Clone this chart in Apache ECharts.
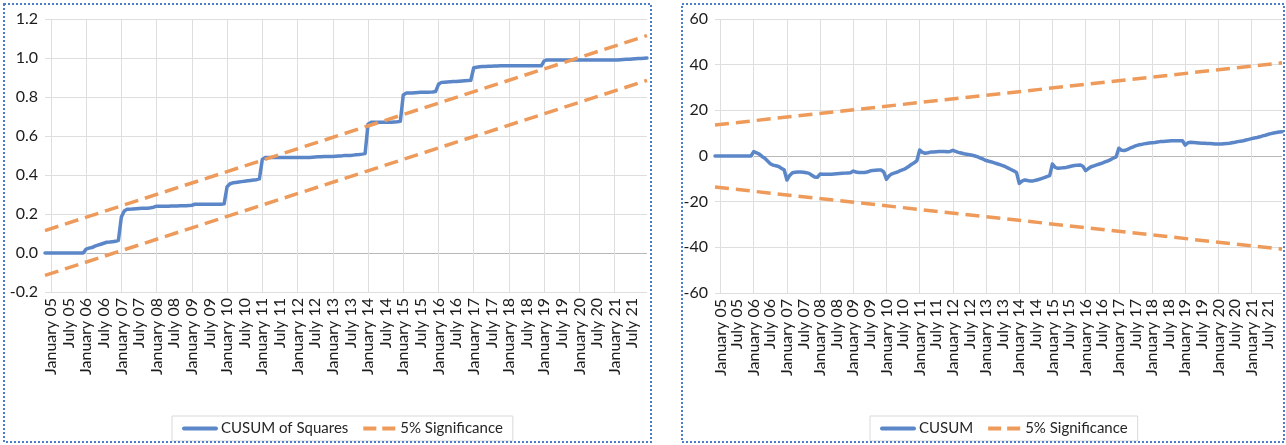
<!DOCTYPE html>
<html>
<head>
<meta charset="utf-8">
<script src="https://cdn.jsdelivr.net/npm/echarts@6/dist/echarts.min.js"></script>
<style>
html,body{margin:0;padding:0;background:#ffffff;}
#c{width:1286px;height:445px;}
</style>
</head>
<body>
<div id="c"></div>
<script>
// ---- category labels (monthly, Nov 2004 .. Dec 2021) ----
const monthNames = ['January','February','March','April','May','June','July','August','September','October','November','December'];
const years = [2005,2006,2007,2008,2009,2010,2011,2012,2013,2014,2015,2016,2017,2018,2019,2020,2021];
const categories = ['November 04','December 04'];
years.forEach(function(y){ monthNames.forEach(function(m){ categories.push(m + ' ' + String(y).slice(2)); }); });

// ---- CUSUM of Squares (monthly values) ----
const cusumSq = [
  0, 0,
  0, 0, 0, 0, 0, 0, 0, 0, 0, 0, 0, 0,
  0.02, 0.025, 0.028, 0.035, 0.04, 0.045, 0.05, 0.055, 0.056, 0.058, 0.06, 0.065,
  0.185, 0.215, 0.225, 0.225, 0.226, 0.227, 0.228, 0.229, 0.23, 0.23, 0.232, 0.235,
  0.24, 0.24, 0.24, 0.24, 0.24, 0.241, 0.241, 0.241, 0.242, 0.242, 0.242, 0.243,
  0.245, 0.25, 0.25, 0.25, 0.25, 0.25, 0.25, 0.25, 0.25, 0.25, 0.25, 0.252,
  0.34, 0.355, 0.36, 0.362, 0.364, 0.366, 0.368, 0.37, 0.372, 0.374, 0.376, 0.38,
  0.48, 0.49, 0.49, 0.49, 0.49, 0.49, 0.49, 0.49, 0.49, 0.49, 0.49, 0.49,
  0.49, 0.49, 0.49, 0.49, 0.49, 0.491, 0.492, 0.493, 0.494, 0.495, 0.495, 0.495,
  0.495, 0.496, 0.497, 0.498, 0.5, 0.5, 0.5, 0.502, 0.504, 0.505, 0.507, 0.51,
  0.66, 0.67, 0.67, 0.67, 0.67, 0.67, 0.67, 0.67, 0.671, 0.672, 0.673, 0.675,
  0.81, 0.82, 0.82, 0.82, 0.822, 0.823, 0.824, 0.825, 0.825, 0.825, 0.826, 0.828,
  0.865, 0.875, 0.876, 0.877, 0.878, 0.879, 0.88, 0.881, 0.882, 0.883, 0.884, 0.886,
  0.95, 0.953, 0.955, 0.956, 0.957, 0.958, 0.958, 0.959, 0.959, 0.96, 0.96, 0.96,
  0.96, 0.96, 0.96, 0.96, 0.96, 0.96, 0.96, 0.96, 0.96, 0.96, 0.96, 0.96,
  0.985, 0.99, 0.99, 0.99, 0.99, 0.99, 0.99, 0.99, 0.99, 0.99, 0.99, 0.99,
  0.99, 0.99, 0.99, 0.99, 0.99, 0.99, 0.99, 0.99, 0.99, 0.99, 0.99, 0.99,
  0.99, 0.99, 0.991, 0.992, 0.993, 0.994, 0.995, 0.996, 0.997, 0.998, 0.999, 1.0
];

// ---- CUSUM (monthly values) ----
const cusum = [
  0, 0,
  0, 0, 0, 0, 0, 0, 0, 0, 0, 0, 0, 0,
  1.9, 1.4, 0.8, -0.2, -1.0, -2.2, -3.4, -4.0, -4.3, -4.6, -5.4, -6.0,
  -10.5, -8.5, -7.3, -7.1, -7.0, -7.0, -7.1, -7.3, -7.6, -8.4, -9.2, -9.3,
  -7.9, -8.0, -8.0, -8.0, -8.0, -7.9, -7.8, -7.7, -7.6, -7.5, -7.4, -7.3,
  -6.6, -7.0, -7.2, -7.2, -7.2, -7.0, -6.6, -6.3, -6.2, -6.1, -6.1, -7.0,
  -10.2, -8.6, -7.8, -7.4, -7.0, -6.4, -6.0, -5.4, -4.6, -3.7, -3.0, -2.0,
  2.6, 1.6, 1.2, 1.4, 1.7, 1.8, 1.9, 2.0, 2.0, 2.0, 1.9, 2.0,
  2.5, 2.0, 1.6, 1.3, 1.0, 0.8, 0.6, 0.3, 0.0, -0.4, -0.9, -1.4,
  -2.0, -2.3, -2.6, -3.0, -3.4, -3.8, -4.2, -4.7, -5.3, -5.9, -6.5, -7.2,
  -12.0, -11.0, -10.5, -10.7, -11.0, -10.9, -10.6, -10.3, -9.9, -9.5, -9.0, -8.6,
  -3.5, -5.0, -5.4, -5.3, -5.1, -5.0, -4.7, -4.4, -4.2, -4.0, -3.9, -4.5,
  -6.4, -5.5, -4.7, -4.3, -3.9, -3.5, -3.1, -2.6, -2.2, -1.6, -0.9, -0.4,
  3.4, 2.5, 2.4, 2.8, 3.4, 3.9, 4.4, 4.8, 5.0, 5.3, 5.5, 5.7,
  5.8, 5.9, 6.1, 6.3, 6.4, 6.5, 6.6, 6.7, 6.7, 6.7, 6.7, 6.7,
  4.8, 5.8, 6.0, 5.9, 5.8, 5.7, 5.6, 5.6, 5.5, 5.5, 5.4, 5.3,
  5.3, 5.3, 5.4, 5.5, 5.6, 5.8, 6.0, 6.3, 6.5, 6.7, 7.0, 7.3,
  7.6, 7.9, 8.1, 8.4, 8.8, 9.1, 9.5, 9.8, 10.1, 10.3, 10.5, 10.6
];

// ---- 5% significance bands: values at the first and last month ----
const bandX = ['November 04', 'December 21'];
const sqUpper = [0.115, 1.115];
const sqLower = [-0.115, 0.885];
const cuUpper = [13.6, 40.8];
const cuLower = [-13.6, -40.8];

// ---- tick settings ----
const sqTicks = { min: -0.2, max: 1.2, interval: 0.2 };
const cuTicks = { min: -60, max: 60, interval: 20 };

const FONT = 'Lato';
const BLUE = '#5B86C8';
const ORANGE = '#EE9A5A';
const GRID = '#DEDEDE';
const ZERO = '#B8B8B8';
const TXT = '#1C1C1C';

function pairs(xs, ys){ return xs.map(function(x, i){ return [x, ys[i]]; }); }

function xAxisCfg(gridIndex){
  return {
    type: 'category', gridIndex: gridIndex, data: categories, boundaryGap: false,
    axisLine: { show: false }, axisTick: { show: false },
    axisLabel: {
      interval: function(i){ return (i - 2) % 6 === 0; },
      rotate: 90, margin: 6, fontFamily: FONT, fontSize: 16, color: TXT
    },
    splitLine: {
      show: true,
      interval: function(i){ return (i - 2) % 12 === 0; },
      lineStyle: { color: GRID, width: 1 }
    }
  };
}

function yAxisCfg(gridIndex, t, fmt, zeroIdx, n){
  const cols = [];
  for (let k = 0; k < n; k++) cols.push(k === zeroIdx ? ZERO : GRID);
  return {
    type: 'value', gridIndex: gridIndex, min: t.min, max: t.max, interval: t.interval,
    axisLine: { show: false }, axisTick: { show: false },
    axisLabel: { margin: 7, fontFamily: FONT, fontSize: 16, color: TXT, formatter: fmt },
    splitLine: { show: true, lineStyle: { color: cols, width: 1.2 } }
  };
}

const mainLine = { color: BLUE, width: 3.5, cap: 'round', join: 'round' };
const bandLine = { color: ORANGE, width: 3.5, type: [14, 7] };

function legendCfg(left, mainName){
  return {
    left: left, top: 416, itemWidth: 32, itemHeight: 14, itemGap: 13,
    padding: [5, 10, 5, 10], borderColor: '#D9D9D9', borderWidth: 1,
    textStyle: { fontFamily: FONT, fontSize: 15, color: '#262626' },
    itemStyle: { opacity: 0 },
    data: [
      { name: mainName, itemStyle: { opacity: 0 },
        lineStyle: { color: BLUE, width: 4, type: 'solid' } },
      { name: '5% Significance', itemStyle: { opacity: 0 },
        lineStyle: { color: ORANGE, width: 4, type: [13, 6] } }
    ]
  };
}

const chart = echarts.init(document.getElementById('c'), null, { renderer: 'canvas' });
chart.setOption({
  animation: false,
  backgroundColor: '#ffffff',
  grid: [
    { left: 45, top: 19, width: 602, height: 273 },
    { left: 715, top: 19, width: 567, height: 274 }
  ],
  xAxis: [ xAxisCfg(0), xAxisCfg(1) ],
  yAxis: [
    yAxisCfg(0, sqTicks, function(v){ return v.toFixed(1); }, 1, 8),
    yAxisCfg(1, cuTicks, function(v){ return String(v); }, 3, 7)
  ],
  legend: [ legendCfg(172, 'CUSUM of Squares'), legendCfg(870, 'CUSUM') ],
  series: [
    { name: 'CUSUM of Squares', type: 'line', xAxisIndex: 0, yAxisIndex: 0, data: cusumSq,
      symbol: 'none', lineStyle: mainLine, itemStyle: { color: BLUE }, z: 3 },
    { name: '5% Significance', type: 'line', xAxisIndex: 0, yAxisIndex: 0, data: pairs(bandX, sqUpper),
      symbol: 'none', lineStyle: bandLine, itemStyle: { color: ORANGE }, z: 4 },
    { name: '5% Significance', type: 'line', xAxisIndex: 0, yAxisIndex: 0, data: pairs(bandX, sqLower),
      symbol: 'none', lineStyle: bandLine, itemStyle: { color: ORANGE }, z: 4 },
    { name: 'CUSUM', type: 'line', xAxisIndex: 1, yAxisIndex: 1, data: cusum,
      symbol: 'none', lineStyle: mainLine, itemStyle: { color: BLUE }, z: 3 },
    { name: '5% Significance', type: 'line', xAxisIndex: 1, yAxisIndex: 1, data: pairs(bandX, cuUpper),
      symbol: 'none', lineStyle: bandLine, itemStyle: { color: ORANGE }, z: 4 },
    { name: '5% Significance', type: 'line', xAxisIndex: 1, yAxisIndex: 1, data: pairs(bandX, cuLower),
      symbol: 'none', lineStyle: bandLine, itemStyle: { color: ORANGE }, z: 4 }
  ],
  graphic: [
    { type: 'rect', z: 100, silent: true,
      shape: { x: 4, y: 4, width: 647, height: 438 },
      style: { fill: 'none', stroke: '#4A7EC7', lineWidth: 2, lineDash: [2, 2] } },
    { type: 'rect', z: 100, silent: true,
      shape: { x: 682, y: 4, width: 602, height: 438 },
      style: { fill: 'none', stroke: '#4A7EC7', lineWidth: 2, lineDash: [2, 2] } }
  ]
});
</script>
</body>
</html>
